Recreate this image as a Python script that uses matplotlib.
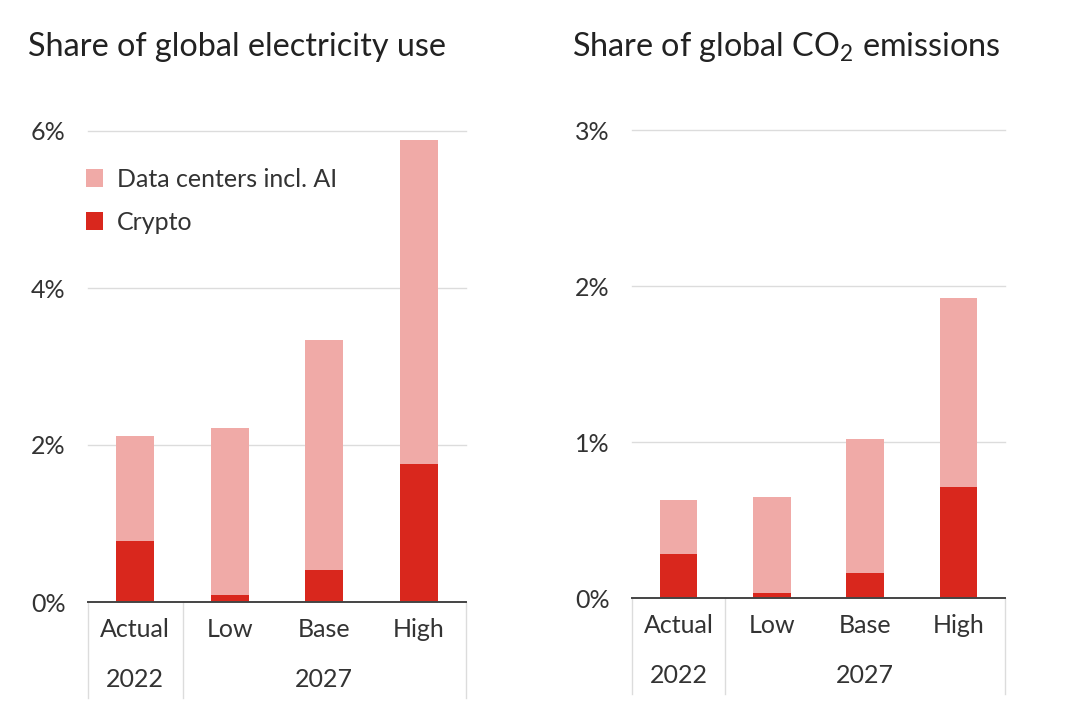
import matplotlib
matplotlib.use("Agg")
import matplotlib.pyplot as plt
from matplotlib.patches import Patch
from matplotlib.transforms import blended_transform_factory

plt.rcParams['font.family'] = ['Lato', 'DejaVu Sans']
plt.rcParams['mathtext.fontset'] = 'custom'
plt.rcParams['mathtext.rm'] = 'Lato'

# data (percent)
scenarios = ['Actual', 'Low', 'Base', 'High']
years = ['2022', '2027']
year_pos = [0, 2]

elec_crypto = [0.78, 0.09, 0.41, 1.76]
elec_dc = [1.33, 2.13, 2.93, 4.13]

co2_crypto = [0.28, 0.03, 0.16, 0.71]
co2_dc = [0.35, 0.62, 0.86, 1.21]

elec_ticks = [0, 2, 4, 6]
co2_ticks = [0, 1, 2, 3]

DARK = '#d9271d'
LIGHT = '#f0aaa7'
TEXT = '#333333'
GRID = '#dcdcdc'
FS = 18

fig = plt.figure(figsize=(10.72, 7.2), dpi=100)
W, H = 1072, 720


def panel(rect, crypto, dc, ticks, title, title_x, legend=False):
    ax = fig.add_axes(rect)
    x = range(len(scenarios))
    ax.bar(x, crypto, width=0.4, color=DARK, zorder=3)
    ax.bar(x, dc, width=0.4, bottom=crypto, color=LIGHT, zorder=3)
    ax.set_xlim(-0.5, 3.5)
    ax.set_ylim(0, ticks[-1])
    ax.set_yticks(ticks)
    ax.set_yticklabels([f'{t}%' for t in ticks])
    ax.tick_params(axis='y', length=0, pad=16, labelsize=FS, labelcolor=TEXT)
    ax.set_xticks([])
    for t in ticks[1:]:
        ax.axhline(t, color=GRID, lw=1, zorder=1, clip_on=False)
    for s in ['top', 'right', 'left']:
        ax.spines[s].set_visible(False)
    ax.spines['bottom'].set_color('#444444')
    ax.spines['bottom'].set_linewidth(1.4)
    ax.spines['bottom'].set_zorder(4)

    # group separators below the axis
    trans = blended_transform_factory(ax.transData, ax.transAxes)
    depth = 96 / (rect[3] * H)
    for sx in [-0.5, 0.5, 3.5]:
        ax.plot([sx, sx], [0, -depth], transform=trans, color=GRID,
                lw=1, clip_on=False)
    for i, s in enumerate(scenarios):
        ax.annotate(s, xy=(i, 0), xytext=(0, -20), textcoords='offset points',
                    ha='center', va='center', fontsize=FS, color=TEXT)
    for p, yr in zip(year_pos, years):
        ax.annotate(yr, xy=(p, 0), xytext=(0, -56), textcoords='offset points',
                    ha='center', va='center', fontsize=FS, color=TEXT)

    fig.text(title_x / W, 1 - 47 / H, title, fontsize=23.3, color='#222222',
             va='center', ha='left')

    if legend:
        handles = [Patch(facecolor=LIGHT, label='Data centers incl. AI'),
                   Patch(facecolor=DARK, label='Crypto')]
        ax.legend(handles=handles, loc='upper left', bbox_to_anchor=(-0.065, 0.97),
                  frameon=False, fontsize=FS, handlelength=0.7, handleheight=0.7,
                  handletextpad=0.55, labelspacing=0.8, labelcolor=TEXT)
    return ax


panel([88 / W, 118 / H, 378 / W, 471 / H], elec_crypto, elec_dc, elec_ticks,
      'Share of global electricity use', 28, legend=True)
panel([632 / W, 122 / H, 373 / W, 468 / H], co2_crypto, co2_dc, co2_ticks,
      r'Share of global CO$_\mathregular{2}$ emissions', 572)

fig.savefig('out.png', dpi=100, facecolor='white')
